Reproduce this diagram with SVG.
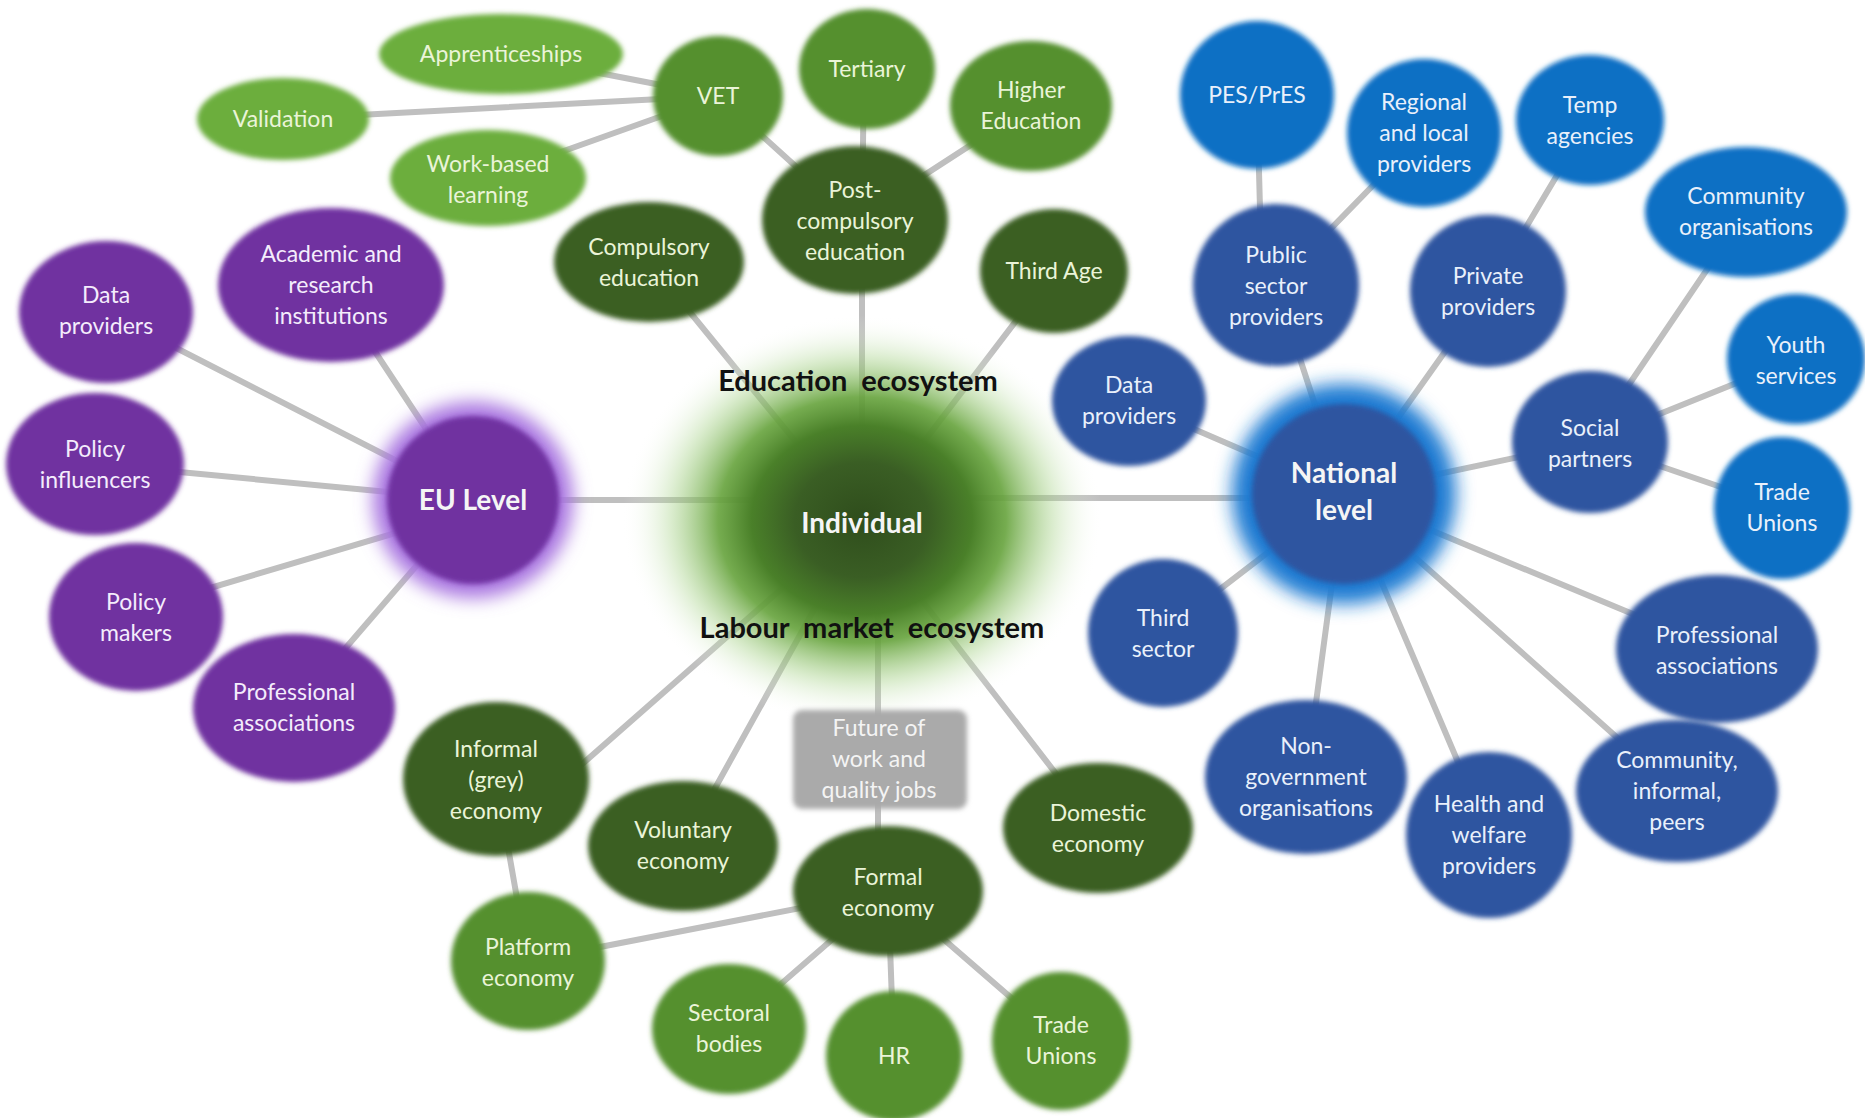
<svg xmlns="http://www.w3.org/2000/svg" width="1865" height="1118" viewBox="0 0 1865 1118">
<defs>
<filter id="soft" x="-20%" y="-20%" width="140%" height="140%"><feGaussianBlur stdDeviation="2.5"/></filter>
<filter id="glow" x="-40%" y="-40%" width="180%" height="180%"><feGaussianBlur stdDeviation="9"/></filter>
<radialGradient id="indiv" cx="50%" cy="50%" r="50%">
<stop offset="0" stop-color="#2f4d1c"/>
<stop offset="0.28" stop-color="#3a5e24"/>
<stop offset="0.46" stop-color="#4a8029"/>
<stop offset="0.6" stop-color="#66a33c" stop-opacity="0.9"/>
<stop offset="0.8" stop-color="#a8d38a" stop-opacity="0.4"/>
<stop offset="1" stop-color="#ffffff" stop-opacity="0"/>
</radialGradient>
<style>
.c line{stroke:#bfbfbf;stroke-width:6;stroke-linecap:round}
.lg{fill:#6cae3e}.mg{fill:#54902f}.dg{fill:#3a5e24}.pu{fill:#7030a0}.bb{fill:#1170c4}.db{fill:#2f55a0}
.sh{filter:url(#soft)}
text{font-family:Lato,"Open Sans",sans-serif;font-size:23px;text-anchor:middle}
.tg{fill:#eaf4d8}.tp{fill:#f4ecfc}.tb{fill:#e9f0fb}.tw{fill:#f4f4f4}
.big{font-weight:bold;font-size:29px;fill:#111;word-spacing:7px}
.hub{font-weight:bold;font-size:28px;fill:#f5f5f5}
</style>
</defs>
<rect width="1865" height="1118" fill="#ffffff"/>
<g id="connectors" class="c">
<line x1="283" y1="119" x2="718" y2="96"/>
<line x1="501" y1="54" x2="718" y2="96"/>
<line x1="488" y1="178" x2="718" y2="96"/>
<line x1="718" y1="96" x2="855" y2="220"/>
<line x1="864" y1="69" x2="862" y2="220"/>
<line x1="1031" y1="106" x2="855" y2="220"/>
<line x1="862" y1="220" x2="862" y2="523"/>
<line x1="649" y1="262" x2="862" y2="523"/>
<line x1="1054" y1="271" x2="862" y2="523"/>
<line x1="473" y1="500" x2="862" y2="500"/>
<line x1="862" y1="498" x2="1344" y2="498"/>
<line x1="106" y1="312" x2="473" y2="500"/>
<line x1="331" y1="285" x2="473" y2="500"/>
<line x1="95" y1="464" x2="473" y2="500"/>
<line x1="136" y1="610" x2="473" y2="510"/>
<line x1="294" y1="708" x2="473" y2="500"/>
<line x1="1257" y1="95" x2="1262" y2="285"/>
<line x1="1424" y1="133" x2="1276" y2="285"/>
<line x1="1590" y1="120" x2="1488" y2="291"/>
<line x1="1276" y1="285" x2="1344" y2="494"/>
<line x1="1488" y1="291" x2="1344" y2="494"/>
<line x1="1129" y1="401" x2="1344" y2="494"/>
<line x1="1590" y1="442" x2="1344" y2="494"/>
<line x1="1746" y1="212" x2="1590" y2="442"/>
<line x1="1796" y1="359" x2="1590" y2="442"/>
<line x1="1782" y1="508" x2="1590" y2="442"/>
<line x1="1163" y1="633" x2="1344" y2="494"/>
<line x1="1306" y1="777" x2="1344" y2="494"/>
<line x1="1489" y1="835" x2="1344" y2="494"/>
<line x1="1677" y1="791" x2="1344" y2="494"/>
<line x1="1717" y1="649" x2="1344" y2="494"/>
<line x1="547" y1="795" x2="862" y2="518"/>
<line x1="683" y1="846" x2="862" y2="523"/>
<line x1="878" y1="523" x2="878" y2="891"/>
<line x1="1098" y1="828" x2="862" y2="523"/>
<line x1="496" y1="779" x2="528" y2="961"/>
<line x1="528" y1="961" x2="888" y2="891"/>
<line x1="888" y1="891" x2="729" y2="1029"/>
<line x1="888" y1="891" x2="894" y2="1056"/>
<line x1="888" y1="891" x2="1061" y2="1041"/>
</g>
<g id="individual">
<ellipse cx="862" cy="520" rx="240" ry="205" fill="url(#indiv)"/>
<text class="hub" x="862" y="533">Individual</text>
</g>
<text class="big" x="858" y="391">Education ecosystem</text>
<text class="big" x="872" y="638">Labour market ecosystem</text>

<g id="apprenticeships"><ellipse class="lg sh" cx="501" cy="54" rx="122" ry="40"/><text class="tg" x="501" y="62">Apprenticeships</text></g>
<g id="validation"><ellipse class="lg sh" cx="283" cy="119" rx="86" ry="41"/><text class="tg" x="283" y="127">Validation</text></g>
<g id="work-based"><ellipse class="lg sh" cx="488" cy="178" rx="98" ry="48"/><text class="tg" x="488" y="172">Work-based</text><text class="tg" x="488" y="203">learning</text></g>
<g id="vet"><ellipse class="mg sh" cx="718" cy="96" rx="65" ry="60"/><text class="tg" x="718" y="104">VET</text></g>
<g id="tertiary"><ellipse class="mg sh" cx="867" cy="69" rx="68" ry="60"/><text class="tg" x="867" y="77">Tertiary</text></g>
<g id="higher-education"><ellipse class="mg sh" cx="1031" cy="106" rx="81" ry="65"/><text class="tg" x="1031" y="98">Higher</text><text class="tg" x="1031" y="129">Education</text></g>
<g id="post-compulsory"><ellipse class="dg sh" cx="855" cy="220" rx="93" ry="74"/><text class="tg" x="855" y="198">Post-</text><text class="tg" x="855" y="229">compulsory</text><text class="tg" x="855" y="260">education</text></g>
<g id="compulsory"><ellipse class="dg sh" cx="649" cy="262" rx="95" ry="60"/><text class="tg" x="649" y="255">Compulsory</text><text class="tg" x="649" y="286">education</text></g>
<g id="third-age"><ellipse class="dg sh" cx="1054" cy="271" rx="74" ry="62"/><text class="tg" x="1054" y="279">Third Age</text></g>

<g id="eu-level">
<ellipse cx="473" cy="500" rx="100" ry="98" fill="#a874e0" filter="url(#glow)"/>
<ellipse cx="473" cy="500" rx="86" ry="84" fill="#7030a0" filter="url(#soft)"/>
<text class="hub" x="473" y="510">EU Level</text>
</g>
<g id="eu-data-providers"><ellipse class="pu sh" cx="106" cy="312" rx="87" ry="71"/><text class="tp" x="106" y="303">Data</text><text class="tp" x="106" y="334">providers</text></g>
<g id="academic"><ellipse class="pu sh" cx="331" cy="285" rx="113" ry="77"/><text class="tp" x="331" y="262">Academic and</text><text class="tp" x="331" y="293">research</text><text class="tp" x="331" y="324">institutions</text></g>
<g id="policy-influencers"><ellipse class="pu sh" cx="95" cy="464" rx="89" ry="71"/><text class="tp" x="95" y="457">Policy</text><text class="tp" x="95" y="488">influencers</text></g>
<g id="policy-makers"><ellipse class="pu sh" cx="136" cy="617" rx="87" ry="74"/><text class="tp" x="136" y="610">Policy</text><text class="tp" x="136" y="641">makers</text></g>
<g id="eu-professional"><ellipse class="pu sh" cx="294" cy="708" rx="101" ry="74"/><text class="tp" x="294" y="700">Professional</text><text class="tp" x="294" y="731">associations</text></g>

<g id="national-level">
<ellipse cx="1344" cy="494" rx="112" ry="110" fill="#1f7ad2" filter="url(#glow)"/>
<ellipse cx="1344" cy="494" rx="92" ry="90" fill="#2f55a0" filter="url(#soft)"/>
<text class="hub" x="1344" y="483">National</text><text class="hub" x="1344" y="520">level</text>
</g>
<g id="pes"><ellipse class="bb sh" cx="1257" cy="95" rx="77" ry="74"/><text class="tb" x="1257" y="103">PES/PrES</text></g>
<g id="regional"><ellipse class="bb sh" cx="1424" cy="133" rx="77" ry="74"/><text class="tb" x="1424" y="110">Regional</text><text class="tb" x="1424" y="141">and local</text><text class="tb" x="1424" y="172">providers</text></g>
<g id="temp"><ellipse class="bb sh" cx="1590" cy="120" rx="74" ry="65"/><text class="tb" x="1590" y="113">Temp</text><text class="tb" x="1590" y="144">agencies</text></g>
<g id="community-orgs"><ellipse class="bb sh" cx="1746" cy="212" rx="101" ry="65"/><text class="tb" x="1746" y="204">Community</text><text class="tb" x="1746" y="235">organisations</text></g>
<g id="youth"><ellipse class="bb sh" cx="1796" cy="359" rx="69" ry="65"/><text class="tb" x="1796" y="353">Youth</text><text class="tb" x="1796" y="384">services</text></g>
<g id="trade-unions-blue"><ellipse class="bb sh" cx="1782" cy="508" rx="68" ry="71"/><text class="tb" x="1782" y="500">Trade</text><text class="tb" x="1782" y="531">Unions</text></g>
<g id="public-sector"><ellipse class="db sh" cx="1276" cy="285" rx="83" ry="81"/><text class="tb" x="1276" y="263">Public</text><text class="tb" x="1276" y="294">sector</text><text class="tb" x="1276" y="325">providers</text></g>
<g id="private"><ellipse class="db sh" cx="1488" cy="291" rx="78" ry="76"/><text class="tb" x="1488" y="284">Private</text><text class="tb" x="1488" y="315">providers</text></g>
<g id="nat-data-providers"><ellipse class="db sh" cx="1129" cy="401" rx="77" ry="65"/><text class="tb" x="1129" y="393">Data</text><text class="tb" x="1129" y="424">providers</text></g>
<g id="social-partners"><ellipse class="db sh" cx="1590" cy="442" rx="78" ry="71"/><text class="tb" x="1590" y="436">Social</text><text class="tb" x="1590" y="467">partners</text></g>
<g id="third-sector"><ellipse class="db sh" cx="1163" cy="633" rx="75" ry="74"/><text class="tb" x="1163" y="626">Third</text><text class="tb" x="1163" y="657">sector</text></g>
<g id="ngo"><ellipse class="db sh" cx="1306" cy="777" rx="101" ry="77"/><text class="tb" x="1306" y="754">Non-</text><text class="tb" x="1306" y="785">government</text><text class="tb" x="1306" y="816">organisations</text></g>
<g id="health"><ellipse class="db sh" cx="1489" cy="835" rx="83" ry="83"/><text class="tb" x="1489" y="812">Health and</text><text class="tb" x="1489" y="843">welfare</text><text class="tb" x="1489" y="874">providers</text></g>
<g id="community-informal"><ellipse class="db sh" cx="1677" cy="791" rx="101" ry="71"/><text class="tb" x="1677" y="768">Community,</text><text class="tb" x="1677" y="799">informal,</text><text class="tb" x="1677" y="830">peers</text></g>
<g id="nat-professional"><ellipse class="db sh" cx="1717" cy="649" rx="101" ry="74"/><text class="tb" x="1717" y="643">Professional</text><text class="tb" x="1717" y="674">associations</text></g>

<g id="informal"><ellipse class="dg sh" cx="496" cy="779" rx="93" ry="77"/><text class="tg" x="496" y="757">Informal</text><text class="tg" x="496" y="788">(grey)</text><text class="tg" x="496" y="819">economy</text></g>
<g id="voluntary"><ellipse class="dg sh" cx="683" cy="846" rx="95" ry="65"/><text class="tg" x="683" y="838">Voluntary</text><text class="tg" x="683" y="869">economy</text></g>
<g id="future"><rect x="793" y="710" width="174" height="99" rx="9" fill="#aaaaaa" filter="url(#soft)"/><text class="tw" x="879" y="736">Future of</text><text class="tw" x="879" y="767">work and</text><text class="tw" x="879" y="798">quality jobs</text></g>
<g id="formal"><ellipse class="dg sh" cx="888" cy="891" rx="95" ry="65"/><text class="tg" x="888" y="885">Formal</text><text class="tg" x="888" y="916">economy</text></g>
<g id="domestic"><ellipse class="dg sh" cx="1098" cy="828" rx="95" ry="65"/><text class="tg" x="1098" y="821">Domestic</text><text class="tg" x="1098" y="852">economy</text></g>
<g id="platform"><ellipse class="mg sh" cx="528" cy="961" rx="77" ry="69"/><text class="tg" x="528" y="955">Platform</text><text class="tg" x="528" y="986">economy</text></g>
<g id="sectoral"><ellipse class="mg sh" cx="729" cy="1029" rx="77" ry="65"/><text class="tg" x="729" y="1021">Sectoral</text><text class="tg" x="729" y="1052">bodies</text></g>
<g id="hr"><ellipse class="mg sh" cx="894" cy="1056" rx="68" ry="65"/><text class="tg" x="894" y="1064">HR</text></g>
<g id="trade-unions-green"><ellipse class="mg sh" cx="1061" cy="1041" rx="69" ry="69"/><text class="tg" x="1061" y="1033">Trade</text><text class="tg" x="1061" y="1064">Unions</text></g>
</svg>
